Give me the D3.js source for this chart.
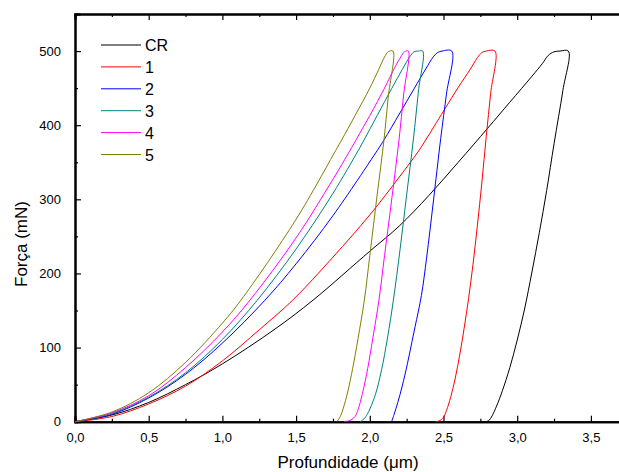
<!DOCTYPE html>
<html>
<head>
<meta charset="utf-8">
<script src="https://cdn.jsdelivr.net/npm/d3@7"></script>
<style>
  body { margin: 0; background: #fff; }
  text { font-family: "Liberation Sans", Arial, sans-serif; }
</style>
</head>
<body>
<svg id="chart"></svg>
<script>
// series names and colours (legend order)
var seriesNames = ["CR", "1", "2", "3", "4", "5"];
var seriesColors = ["#000000", "#ff0000", "#0000ff", "#008080", "#ff00ff", "#808000"];

// depth (um), force (mN) pairs: loading, hold, unloading
var curveCR = [[0,0],[0.25,9],[0.5,26],[0.75,50],[1.0,78],[1.357,125],[1.615,164],[2.0,230],[2.2,264],[2.4,305],[2.6,350],[2.8,396],[2.95,431],[3.1,466],[3.17,483],[3.21,494],[3.25,499],[3.29,500],[3.347,500],
  [3.31,447],[3.25,375],[3.20,312],[3.15,255],[3.10,202],[3.05,152],[3.0,110],[2.95,73],[2.9,42],[2.86,21],[2.83,8],[2.81,2],[2.79,0]];
var curve1 = [[0,0],[0.25,7],[0.5,24],[0.75,48],[1.0,82],[1.25,124],[1.477,164],[1.75,222],[2.0,279],[2.2,330],[2.334,366],[2.379,380],[2.5,419],[2.6,451],[2.68,475],[2.73,491],[2.76,498],[2.79,500],[2.849,500],
  [2.82,443],[2.79,385],[2.76,322],[2.73,265],[2.70,212],[2.67,166],[2.64,126],[2.61,90],[2.58,59],[2.55,34],[2.52,15],[2.5,6],[2.47,1],[2.442,0]];
var curve2 = [[0,0],[0.25,10],[0.5,32],[0.75,64],[1.0,106],[1.289,164],[1.5,213],[1.75,278],[2.051,366],[2.096,380],[2.2,415],[2.3,449],[2.38,476],[2.43,492],[2.46,498],[2.49,500],[2.556,500],
  [2.52,442],[2.481,382],[2.43,295],[2.386,222],[2.35,170],[2.307,128],[2.28,102],[2.255,78],[2.22,48],[2.19,26],[2.165,10],[2.148,0]];
var curve3 = [[0,0],[0.25,11],[0.5,33],[0.75,66],[1.0,111],[1.237,164],[1.5,233],[1.75,308],[1.922,366],[1.961,380],[2.05,413],[2.15,450],[2.22,475],[2.27,492],[2.3,499],[2.33,500],[2.359,500],
  [2.33,446],[2.295,380],[2.25,306],[2.205,232],[2.16,164],[2.12,113],[2.08,70],[2.04,38],[2.0,17],[1.97,6],[1.95,2],[1.934,0]];
var curve4 = [[0,0],[0.25,12],[0.5,35],[0.75,73],[1.0,121],[1.187,164],[1.5,248],[1.75,327],[1.866,366],[1.906,380],[2.0,413],[2.1,450],[2.17,478],[2.21,492],[2.235,499],[2.261,500],
  [2.23,442],[2.198,380],[2.15,302],[2.1,224],[2.062,164],[2.02,112],[1.986,72],[1.95,38],[1.92,16],[1.9,7],[1.87,2],[1.825,0]];
var curve5 = [[0,0],[0.25,13],[0.5,39],[0.75,80],[1.0,133],[1.126,164],[1.5,273],[1.769,366],[1.809,380],[1.9,413],[2.0,450],[2.06,475],[2.1,492],[2.125,499],[2.157,500],
  [2.125,438],[2.096,380],[2.05,306],[2.0,224],[1.963,164],[1.92,112],[1.884,72],[1.85,40],[1.82,18],[1.8,7],[1.777,0]];

var curves = [curveCR, curve1, curve2, curve3, curve4, curve5];

// tick values
var xMajor = [0, 0.5, 1.0, 1.5, 2.0, 2.5, 3.0, 3.5];
var xMinor = [0.25, 0.75, 1.25, 1.75, 2.25, 2.75, 3.25, 3.75];
var yMajor = [0, 100, 200, 300, 400, 500];
var yMinor = [50, 150, 250, 350, 450];

var width = 619, height = 472;
var plotLeft = 75, plotTop = 14, plotBottom = 421.7;

var svg = d3.select("#chart")
    .attr("width", width)
    .attr("height", height);

var x = d3.scaleLinear().domain([0, 3.7]).range([plotLeft, plotLeft + 3.7 * 147.4]);
var y = d3.scaleLinear().domain([0, 550]).range([plotBottom, plotTop]);

var fmtX = function(d){ return d3.format(".1f")(d).replace(".", ","); };

// bottom axis, ticks point inward
var gx = svg.append("g").attr("transform", "translate(0," + plotBottom + ")");
gx.call(d3.axisBottom(x).tickValues(xMajor).tickSize(-6).tickPadding(11).tickFormat(fmtX));
gx.append("g").call(d3.axisBottom(x).tickValues(xMinor).tickSize(-3).tickFormat(""));

// top axis
var gt = svg.append("g").attr("transform", "translate(0," + plotTop + ")");
gt.call(d3.axisTop(x).tickValues(xMajor).tickSize(-6).tickFormat(""));
gt.append("g").call(d3.axisTop(x).tickValues(xMinor).tickSize(-3).tickFormat(""));

// left axis
var gy = svg.append("g").attr("transform", "translate(" + plotLeft + ",0)");
gy.call(d3.axisLeft(y).tickValues(yMajor).tickSize(-6).tickPadding(14));
gy.append("g").call(d3.axisLeft(y).tickValues(yMinor).tickSize(-3).tickFormat(""));

svg.selectAll(".domain").attr("stroke", "#000").attr("stroke-width", 2);
svg.selectAll(".tick line").attr("stroke", "#000").attr("stroke-width", 1.2);
svg.selectAll(".tick text")
    .attr("font-size", 13)
    .attr("font-family", "Liberation Sans, Arial, sans-serif")
    .attr("fill", "#000");

// curves
var line = d3.line()
    .x(function(d){ return x(d[0]); })
    .y(function(d){ return y(d[1]); })
    .curve(d3.curveCatmullRom.alpha(0.5));

svg.append("g").selectAll("path.curve")
  .data(curves)
  .enter()
  .append("path")
    .attr("class", "curve")
    .attr("d", line)
    .attr("fill", "none")
    .attr("stroke", function(d, i){ return seriesColors[i]; })
    .attr("stroke-width", 1);

// legend
var legend = svg.append("g");
seriesNames.forEach(function(name, i){
  var ly = 45 + i * 21.9;
  legend.append("line")
    .attr("x1", 101).attr("x2", 141)
    .attr("y1", ly).attr("y2", ly)
    .attr("stroke", seriesColors[i])
    .attr("stroke-width", 1);
  legend.append("text")
    .attr("x", 145)
    .attr("y", ly + 6)
    .attr("font-size", 16)
    .text(name);
});

// axis titles
svg.append("text")
  .attr("x", 348)
  .attr("y", 468)
  .attr("text-anchor", "middle")
  .attr("font-size", 17)
  .text("Profundidade (\u03bcm)");

svg.append("text")
  .attr("transform", "translate(27,244) rotate(-90)")
  .attr("text-anchor", "middle")
  .attr("font-size", 17)
  .text("Força (mN)");
</script>
</body>
</html>
